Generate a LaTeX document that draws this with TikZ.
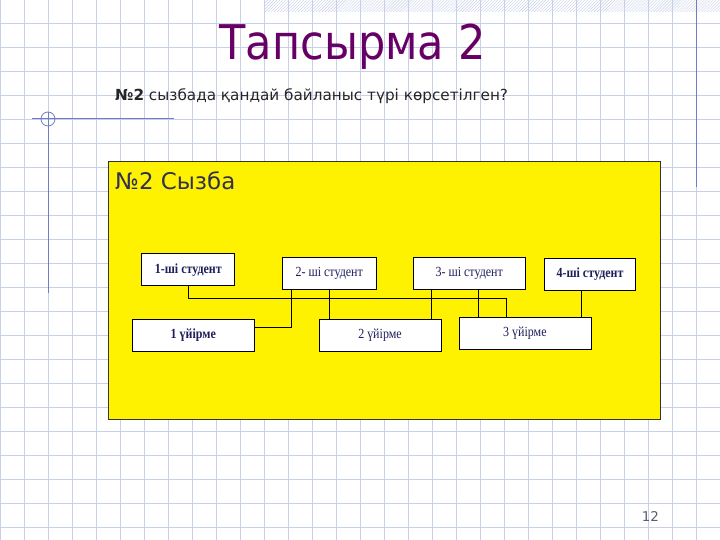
\documentclass[tikz,border=0pt]{standalone}
\usepackage{fontspec}
\usepackage{color}
\usetikzlibrary{patterns}
\setmainfont{DejaVu Sans}
\newfontfamily\titlefont[FakeStretch = 0.9]{DejaVu Sans}
\newfontfamily\boxfont[FakeStretch = 0.86]{Liberation Serif}
\definecolor{gridblue}{RGB}{200,208,232}
\definecolor{lineblue}{RGB}{112,124,200}
\definecolor{titlepurple}{RGB}{102,0,102}
\definecolor{boxtext}{RGB}{30,30,90}
\definecolor{slate}{RGB}{50,50,80}

\begin{document}
\begin{tikzpicture}[x = 1bp, y = 1bp,
  box/.style = {draw = black, fill = white, line width = 0.8bp, inner sep = 0pt,
    minimum height = 32bp, text = boxtext, font = \boxfont\fontsize{14}{16}\selectfont},
  wire/.style = {line width = 0.9bp}]
\useasboundingbox (0, 0) rectangle (720, 540);
\fill[white] (0, 0) rectangle (720, 540);

% squared paper
\begin{scope}[yshift = 13bp]
\draw[gridblue, line width = 0.8bp, step = 24bp] (0, -13) grid (720, 527);
\end{scope}
\fill[pattern = north east lines, pattern color = gridblue] (264, 528) rectangle (720, 540);
\draw[lineblue, line width = 1bp] (696, 540) -- (696, 353);
\draw[lineblue, line width = 1bp] (48, 428) -- (48, 247);
\draw[lineblue, line width = 1bp] (32, 421) -- (174, 421);
\draw[lineblue, line width = 0.8bp] (48, 421) circle [radius = 7bp];

\node[anchor = base west, inner sep = 0pt, text = titlepurple, font = \titlefont\fontsize{48}{50}\selectfont] at (219.5, 480) (title) {Тапсырма 2};
\node[anchor = base west, inner sep = 0pt, text = black!85, font = \fontsize{15.3}{18}\selectfont] at (115, 439) (question) {\textbf{№2} сызбада қандай байланыс түрі көрсетілген?};

% scheme
\draw[fill = yellow, draw = black!80, line width = 1bp] (108, 120) rectangle (660, 378);
\node[anchor = base west, inner sep = 0pt, text = slate, font = \fontsize{23}{25}\selectfont] at (115, 350) (caption) {№2 Сызба};

\node[box, minimum width = 93bp] at (188.3, 270.1) (s1)  {\textbf{1-ші студент}};
\node[box, minimum width = 94bp] at (329.2, 266.7) (s2)  {2- ші студент};
\node[box, minimum width = 112bp] at (469.2, 266.7) (s3) {3- ші студент};
\node[box, minimum width = 91bp] at (590, 265.8) (s4)    {\textbf{4-ші студент}};

\node[box, minimum width = 122bp] at (193.3, 204.7) (g1) {\textbf{1 үйірме}};
\node[box, minimum width = 122bp] at (380, 204.7) (g2)   {2 үйірме};
\node[box, minimum width = 132bp] at (524.9, 206.8) (g3) {3 үйірме};

\coordinate (j1) at (506, 241.7);
\coordinate (p2) at ([xshift = -37.5bp]s2.south);
\coordinate (p3) at ([xshift = -37.5bp]s3.south);
\coordinate (q3) at ([xshift = 9.5bp]s3.south);
\coordinate (p4) at ([xshift = -8.3bp]s4.south);

\draw[wire] (s1.south) |- (j1) -- (j1 |- g3.north);
\draw[wire] (p2) |- ([yshift = 7.6bp]g1.east);
\draw[wire] (s2.south) -- (s2.south |- g2.north);
\draw[wire] (p3) -- (p3 |- g2.north);
\draw[wire] (q3) -- (q3 |- g3.north);
\draw[wire] (p4) -- (p4 |- g3.north);

\node[anchor = base west, inner sep = 0pt, text = slate!80, font = \fontsize{13.5}{15}\selectfont] at (641.7, 18.3) (pagenum) {12};
\end{tikzpicture}
\end{document}
